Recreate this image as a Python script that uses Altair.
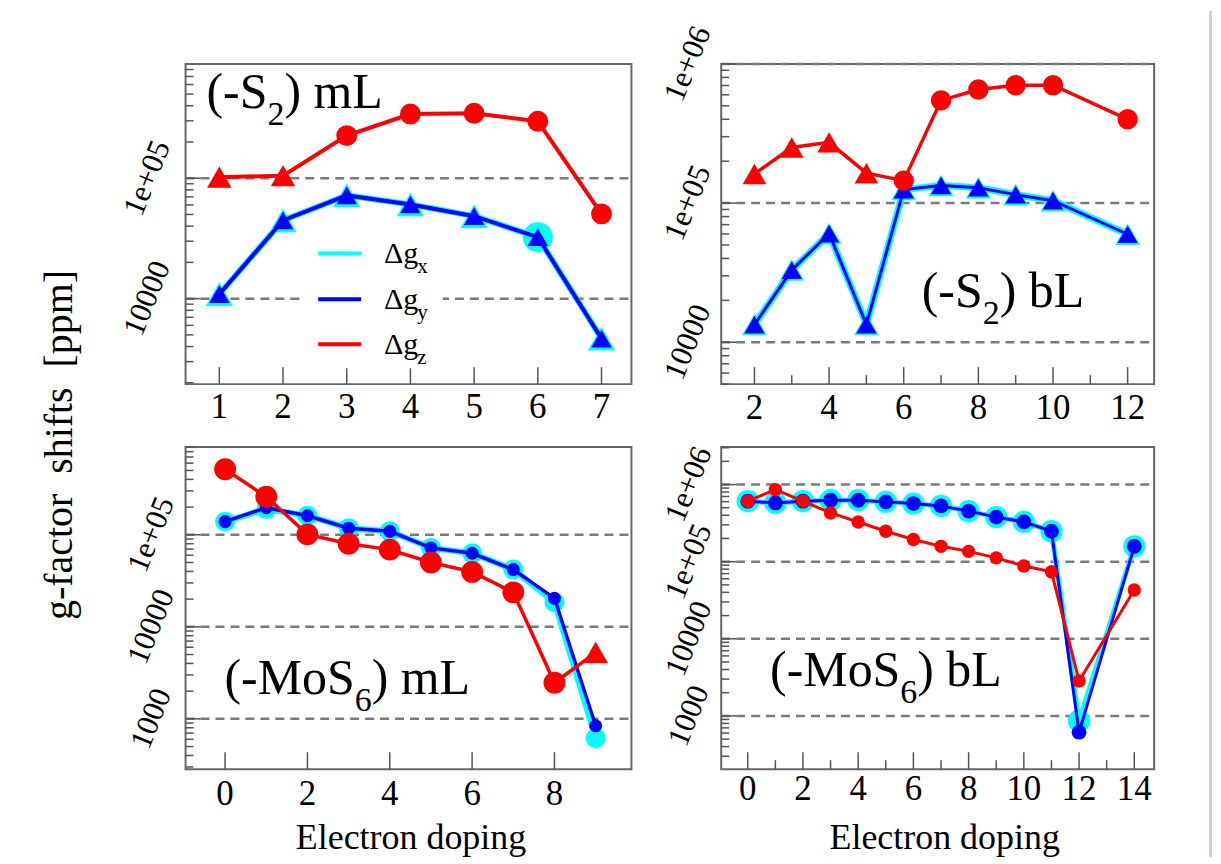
import altair as alt
import pandas as pd

FONT = "Liberation Serif"
RED, BLUE, CYAN = "#ff0000", "#0000ff", "#00ffff"
T, C = "triangle-up", "circle"

# ---------------- data ----------------
# (-S2) mL
s2ml_x = [1, 2, 3, 4, 5, 6, 7]
s2ml_gz = [1.02e5, 1.05e5, 2.26e5, 3.41e5, 3.46e5, 2.97e5, 5.06e4]
s2ml_gz_mk = [T, T, C, C, C, C, C]
s2ml_gy = [1.09e4, 4.47e4, 7.2e4, 6.05e4, 4.84e4, 3.24e4, 4.66e3]
s2ml_gy_mk = [T, T, T, T, T, T, T]
s2ml_gx = [1.09e4, 4.47e4, 7.2e4, 6.05e4, 4.84e4, 3.24e4, 4.66e3]
s2ml_gx_mk = [T, T, T, T, T, C, T]
s2ml_xticks = [1, 2, 3, 4, 5, 6, 7]
s2ml_yticks = [1e4, 1e5]
s2ml_ylabels = ["10000", "1e+05"]

# (-S2) bL
s2bl_x = [2, 3, 4, 5, 6, 7, 8, 9, 10, 12]
s2bl_gz = [1.62e5, 2.51e5, 2.73e5, 1.64e5, 1.45e5, 5.47e5, 6.55e5, 7.03e5, 7.03e5, 4.0e5]
s2bl_gz_mk = [T, T, T, T, C, C, C, C, C, C]
s2bl_gy = [1.34e4, 3.3e4, 6.04e4, 1.34e4, 1.25e5, 1.34e5, 1.29e5, 1.15e5, 1.04e5, 5.97e4]
s2bl_gx = [1.34e4, 3.3e4, 6.04e4, 1.34e4, 1.25e5, 1.34e5, 1.29e5, 1.15e5, 1.04e5, 5.97e4]
s2bl_gxy_mk = [T] * 10
s2bl_xticks = [2, 4, 6, 8, 10, 12]
s2bl_xminor = [3, 5, 7, 9, 11]
s2bl_yticks = [1e4, 1e5, 1e6]
s2bl_ylabels = ["10000", "1e+05", "1e+06"]

# (-MoS6) mL
mos6ml_x = [0, 1, 2, 3, 4, 5, 6, 7, 8, 9]
mos6ml_gz = [5.15e5, 2.59e5, 1.01e5, 8.0e4, 6.9e4, 5.0e4, 3.95e4, 2.37e4, 2.47e3, 5.25e3]
mos6ml_gz_mk = [C, C, C, C, C, C, C, C, C, T]
mos6ml_gy = [1.39e5, 1.97e5, 1.61e5, 1.18e5, 1.09e5, 7.2e4, 6.3e4, 4.19e4, 2.04e4, 840]
mos6ml_gx = [1.39e5, 1.9e5, 1.61e5, 1.18e5, 1.09e5, 7.2e4, 6.3e4, 4.19e4, 1.85e4, 617]
mos6ml_gxy_mk = [C] * 10
mos6ml_xticks = [0, 2, 4, 6, 8]
mos6ml_yticks = [1e3, 1e4, 1e5]
mos6ml_ylabels = ["1000", "10000", "1e+05"]

# (-MoS6) bL
mos6bl_x = [0, 1, 2, 3, 4, 5, 6, 7, 8, 9, 10, 11, 12, 14]
mos6bl_gz = [6.08e5, 8.6e5, 6.08e5, 4.28e5, 3.27e5, 2.48e5, 1.94e5, 1.58e5,
             1.36e5, 1.12e5, 8.8e4, 7.4e4, 2.84e3, 4.3e4]
mos6bl_gy = [6.08e5, 5.78e5, 6.08e5, 6.27e5, 6.27e5, 5.96e5, 5.66e5, 5.28e5,
             4.52e5, 3.78e5, 3.28e5, 2.48e5, 615, 1.58e5]
mos6bl_gx = [6.08e5, 5.78e5, 6.08e5, 6.27e5, 6.27e5, 5.96e5, 5.66e5, 5.28e5,
             4.52e5, 3.78e5, 3.28e5, 2.48e5, 861, 1.58e5]
mos6bl_mk = [C] * 14
mos6bl_xticks = [0, 2, 4, 6, 8, 10, 12, 14]
mos6bl_xminor = [1, 3, 5, 7, 9, 11, 13]
mos6bl_yticks = [1e3, 1e4, 1e5, 1e6]
mos6bl_ylabels = ["1000", "10000", "1e+05", "1e+06"]

ONE = pd.DataFrame({"k": [0]})

# Times-like advance widths (em) for placing sub-scripted text pieces
CW = {"(": .333, "-": .333, "S": .556, "M": .889, "o": .5, ")": .333, " ": .25,
      "m": .778, "L": .611, "b": .5, "2": .5, "6": .5, "Δ": .612, "g": .5}


def tw(s, fs):
    return sum(CW.get(c, .5) for c in s) * fs


def txt(text, x, y, fs, align="left", baseline="alphabetic", angle=0):
    kw = dict(text=text, font=FONT, fontSize=fs, align=align, baseline=baseline, color="black")
    if angle:
        kw["angle"] = angle
    return alt.Chart(ONE).mark_text(**kw).encode(x=alt.value(x), y=alt.value(y))


def subtext(parts, x0, y0):
    out = []
    x = x0
    for t, fs, dy in parts:
        out.append(txt(t, x, y0 + dy, fs))
        x += tw(t, fs)
    return out


def log_minor(lo, hi):
    out = []
    for k in range(1, 8):
        for m in range(2, 10):
            v = m * 10 ** k
            if lo <= v <= hi:
                out.append(v)
    return out


def panel(w, h, xdom, ydom, xmaj, xmin, yticks, ylabels, ylab_x, xlab_dy, series, extras):
    xs = alt.Scale(domain=xdom, nice=False, zero=False)
    ys = alt.Scale(type="log", domain=ydom, nice=False)
    X = lambda f: alt.X(f, scale=xs, axis=None)
    Y = lambda f: alt.Y(f, scale=ys, axis=None)
    layers = []
    # dashed decade grid
    layers.append(alt.Chart(pd.DataFrame({"t": yticks})).mark_rule(
        color="#7a7a7a", strokeWidth=2.5, strokeDash=[9, 6]).encode(
        y=Y("t:Q"), x=alt.value(0), x2=alt.value(w)))
    for xv, yv, mk, color, lw, sizes in series:
        df = pd.DataFrame({"x": xv, "v": yv, "mk": mk})
        df["sz"] = [sizes[m] for m in mk]
        base = alt.Chart(df)
        layers.append(base.mark_line(color=color, strokeWidth=lw).encode(
            x=X("x:Q"), y=Y("v:Q"), order="x:Q"))
        layers.append(base.mark_point(filled=True, color=color, opacity=1, strokeWidth=0).encode(
            x=X("x:Q"), y=Y("v:Q"),
            shape=alt.Shape("mk:N", scale=None),
            size=alt.Size("sz:Q", scale=None)))
    # inward ticks
    layers.append(alt.Chart(pd.DataFrame({"t": log_minor(ydom[0], ydom[1])})).mark_rule(
        color="#555", strokeWidth=1.5).encode(y=Y("t:Q"), x=alt.value(0), x2=alt.value(8)))
    layers.append(alt.Chart(pd.DataFrame({"t": yticks})).mark_rule(
        color="#555", strokeWidth=1.5).encode(y=Y("t:Q"), x=alt.value(0), x2=alt.value(15)))
    layers.append(alt.Chart(pd.DataFrame({"t": xmaj})).mark_rule(
        color="#555", strokeWidth=1.5).encode(x=X("t:Q"), y=alt.value(h), y2=alt.value(h - 17)))
    if xmin:
        layers.append(alt.Chart(pd.DataFrame({"t": xmin})).mark_rule(
            color="#555", strokeWidth=1.5).encode(x=X("t:Q"), y=alt.value(h), y2=alt.value(h - 9)))
    # tick labels
    layers.append(alt.Chart(pd.DataFrame({"t": xmaj, "lab": [str(v) for v in xmaj]})).mark_text(
        font=FONT, fontSize=35, color="black", align="center", baseline="alphabetic").encode(
        x=X("t:Q"), y=alt.value(h + xlab_dy), text="lab:N"))
    layers.append(alt.Chart(pd.DataFrame({"t": yticks, "lab": ylabels})).mark_text(
        font=FONT, fontSize=31, color="black", align="center", baseline="middle", angle=292).encode(
        y=Y("t:Q"), x=alt.value(ylab_x), text="lab:N"))
    layers.extend(extras)
    return alt.layer(*layers).properties(width=w, height=h)


# ---------------- panel 1 : (-S2) mL ----------------
legend = [alt.Chart(ONE).mark_rect(color="white").encode(
    x=alt.value(119), x2=alt.value(258), y=alt.value(165), y2=alt.value(305))]
for yy, col, s in [(190, CYAN, "x"), (236, BLUE, "y"), (281, RED, "z")]:
    legend.append(alt.Chart(ONE).mark_rule(color=col, strokeWidth=4).encode(
        x=alt.value(133), x2=alt.value(176), y=alt.value(yy)))
    legend.append(txt("Δg", 199, yy + 10, 30))
    legend.append(txt(s, 199 + tw("Δg", 30), yy + 20, 21))
pin = alt.Chart(ONE).mark_rule(color="white", strokeWidth=1).encode(
    x=alt.value(-176), x2=alt.value(-176), y=alt.value(-53), y2=alt.value(-52))

p1 = panel(447, 321, [0.47, 7.47], [1950, 8.9e5], s2ml_xticks, [],
           s2ml_yticks, s2ml_ylabels, -38, 34,
           [(s2ml_x, s2ml_gx, s2ml_gx_mk, CYAN, 6, {T: 750, C: 900}),
            (s2ml_x, s2ml_gy, s2ml_gy_mk, BLUE, 4, {T: 420, C: 420}),
            (s2ml_x, s2ml_gz, s2ml_gz_mk, RED, 4, {T: 600, C: 440})],
           legend + subtext([("(-S", 50, 0), ("2", 34, 17), (") mL", 50, 0)], 21, 44) + [pin])

# ---------------- panel 2 : (-S2) bL ----------------
strip = alt.Chart(ONE).mark_rect(color="#c9d5e1").encode(
    x=alt.value(489), x2=alt.value(492), y=alt.value(-53), y2=alt.value(795))
p2 = panel(434, 321, [1.11, 12.71], [5000, 1.0e6], s2bl_xticks, s2bl_xminor,
           s2bl_yticks, s2bl_ylabels, -33, 35,
           [(s2bl_x, s2bl_gx, s2bl_gxy_mk, CYAN, 7, {T: 620}),
            (s2bl_x, s2bl_gy, s2bl_gxy_mk, BLUE, 3, {T: 420}),
            (s2bl_x, s2bl_gz, s2bl_gz_mk, RED, 3.5, {T: 560, C: 420})],
           subtext([("(-S", 50, 0), ("2", 34, 17), (") bL", 50, 0)], 201, 244) + [strip])

# ---------------- panel 3 : (-MoS6) mL ----------------
ytitle = txt("g-factor\u00a0\u00a0shifts\u00a0\u00a0[ppm]", -126, -2, 40,
             align="center", baseline="middle", angle=270)
p3 = panel(447, 323, [-0.96, 9.87], [284, 9.0e5], mos6ml_xticks, [],
           mos6ml_yticks, mos6ml_ylabels, -34, 36,
           [(mos6ml_x, mos6ml_gx, mos6ml_gxy_mk, CYAN, 6, {C: 400}),
            (mos6ml_x, mos6ml_gy, mos6ml_gxy_mk, BLUE, 3.5, {C: 170}),
            (mos6ml_x, mos6ml_gz, mos6ml_gz_mk, RED, 3.5, {C: 480, T: 625})],
           subtext([("(-MoS", 50, 0), ("6", 34, 17), (") mL", 50, 0)], 39, 248)
           + [ytitle, txt("Electron doping", 226, 403, 36, align="center")])

# ---------------- panel 4 : (-MoS6) bL ----------------
p4 = panel(434, 323, [-0.96, 14.72], [204, 3.07e6], mos6bl_xticks, mos6bl_xminor,
           mos6bl_yticks, mos6bl_ylabels, -32, 31,
           [(mos6bl_x, mos6bl_gx, mos6bl_mk, CYAN, 5, {C: 500}),
            (mos6bl_x, mos6bl_gy, mos6bl_mk, BLUE, 3, {C: 220}),
            (mos6bl_x, mos6bl_gz, mos6bl_mk, RED, 3, {C: 180})],
           subtext([("(-MoS", 50, 0), ("6", 34, 17), (") bL", 50, 0)], 49, 240)
           + [txt("Electron doping", 224, 403, 36, align="center")])

chart = alt.concat(p1, p2, p3, p4, columns=2, spacing={"row": 63, "column": 90},
                   bounds="flush", align="each").properties(
    padding=0, background="white"
).configure_view(stroke="#666666", strokeWidth=2)

chart.save("out.html", embed_options={"renderer": "svg", "actions": False})
